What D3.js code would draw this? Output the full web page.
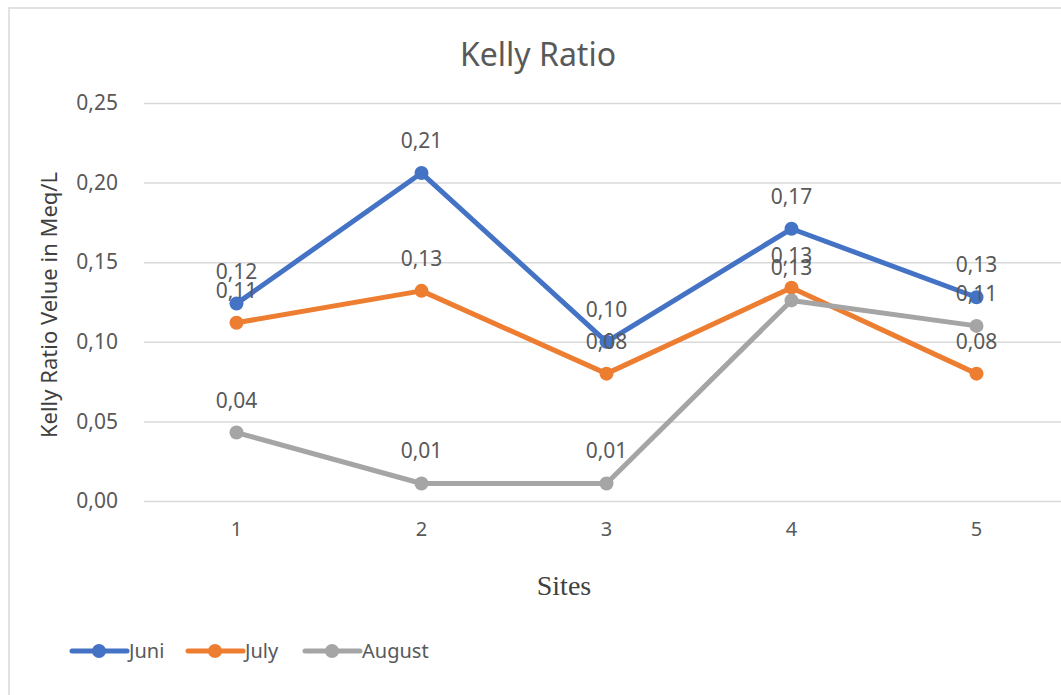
<!DOCTYPE html>
<html><head><meta charset="utf-8">
<script src="https://cdn.jsdelivr.net/npm/d3@7"></script>
<style>
html,body{margin:0;padding:0;background:#fff;overflow:hidden;}
svg{display:block;}
</style></head>
<body>
<svg id="chart" width="1061" height="695"></svg>
<script>
const sites = ["1","2","3","4","5"];
const seriesNames = ["Juni","July","August"];
const juni = [0.124, 0.206, 0.100, 0.171, 0.128];
const july = [0.112, 0.132, 0.080, 0.134, 0.080];
const august = [0.043, 0.011, 0.011, 0.126, 0.110];
const yTicks = [0, 0.05, 0.10, 0.15, 0.20, 0.25];
const colors = ["#4472C4","#ED7D31","#A5A5A5"];

const seriesData = [juni, july, august];
const svg = d3.select("#chart");
const font = "'Noto Sans', 'Open Sans', sans-serif";
const textColor = "#595959";

// frame
svg.append("rect").attr("x",9).attr("y",8).attr("width",1100).attr("height",720)
  .attr("fill","#fff").attr("stroke","#D9D9D9").attr("stroke-width",1.5);

const x = d3.scaleBand().domain(sites).range([144, 1069]).paddingInner(0).paddingOuter(0);
const y = d3.scaleLinear().domain([0, 0.25]).range([501, 103]);
const cx = d => x(d) + x.bandwidth()/2;
const fmt = v => d3.format(".2f")(v).replace(".", ",");

// gridlines
const yAxis = d3.axisLeft(y).tickValues(yTicks).tickSize(-(1069-144)).tickPadding(26).tickFormat(fmt);
const gy = svg.append("g").attr("transform","translate(144,0)").call(yAxis);
gy.select(".domain").remove();
gy.selectAll(".tick line").attr("stroke","#D9D9D9").attr("stroke-width",1.5);
gy.selectAll(".tick text").attr("fill",textColor).style("font-family",font).style("font-size","21px");

// x axis labels
const xAxis = d3.axisBottom(x).tickSize(0).tickPadding(21);
const gx = svg.append("g").attr("transform","translate(0,501)").call(xAxis);
gx.select(".domain").remove();
gx.selectAll(".tick text").attr("fill",textColor).style("font-family",font).style("font-size","20px");

// lines
const line = d3.line().x((d,i)=>cx(sites[i])).y(d=>y(d));
seriesData.forEach((vals, si) => {
  const g = svg.append("g");
  g.append("path").datum(vals).attr("d", line).attr("fill","none")
    .attr("stroke", colors[si]).attr("stroke-width",5).attr("stroke-linejoin","round").attr("stroke-linecap","round");
  g.selectAll("circle").data(vals).join("circle")
    .attr("cx",(d,i)=>cx(sites[i])).attr("cy",d=>y(d)).attr("r",7).attr("fill",colors[si]);
});

// data labels
seriesData.forEach((vals, si) => {
  svg.append("g").selectAll("text").data(vals).join("text")
    .attr("x",(d,i)=>cx(sites[i])).attr("y",d=>y(d)-25)
    .attr("text-anchor","middle").attr("fill",textColor)
    .style("font-family",font).style("font-size","21px")
    .text(d=>fmt(d));
});

// title
svg.append("text").attr("x",538).attr("y",66).attr("text-anchor","middle")
  .attr("fill",textColor).style("font-family",font).style("font-size","32px").text("Kelly Ratio");

// y axis title
svg.append("text").attr("transform","translate(57,305) rotate(-90)").attr("text-anchor","middle")
  .attr("fill","#404040").style("font-family",font).style("font-size","22px").text("Kelly Ratio Velue in Meq/L");

// x axis title
svg.append("text").attr("x",564).attr("y",595).attr("text-anchor","middle")
  .attr("fill","#404040").style("font-family","'Liberation Serif', serif").style("font-size","28px").text("Sites");

// legend
const legendX = [72, 188, 305];
seriesNames.forEach((name, i) => {
  const g = svg.append("g").attr("transform",`translate(${legendX[i]},651)`);
  g.append("line").attr("x1",0).attr("x2",55).attr("y1",0).attr("y2",0)
    .attr("stroke",colors[i]).attr("stroke-width",5).attr("stroke-linecap","round");
  g.append("circle").attr("cx",27).attr("cy",0).attr("r",7).attr("fill",colors[i]);
  g.append("text").attr("x",57).attr("y",7).attr("fill",textColor)
    .style("font-family",font).style("font-size","20px").text(name);
});
</script>
</body></html>
